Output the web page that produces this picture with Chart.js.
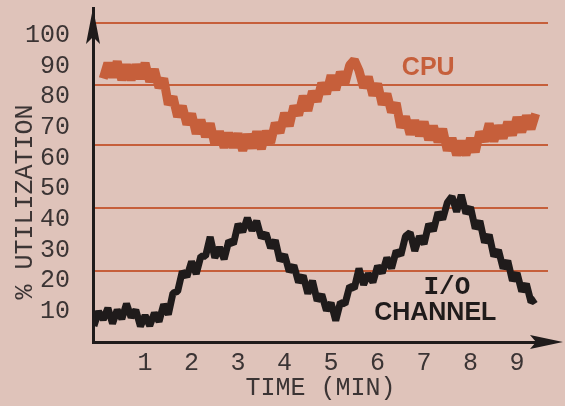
<!DOCTYPE html>
<html lang="en">
<head>
    <meta charset="UTF-8">
    <title>CPU and I/O Channel Utilization</title>
    <script src="https://cdn.jsdelivr.net/npm/chart.js@4.4.1/dist/chart.umd.min.js"></script>
    <style>
        body { margin: 0; background: #dfc3ba; }
        .chart-box { width: 565px; height: 406px; }
    </style>
</head>
<body>
    <div class="chart-box">
        <canvas id="utilChart"></canvas>
    </div>

    <script>
        // Sampled utilization traces (time in minutes, % utilization)
        const cpuTime = [0.1, 0.2, 0.3, 0.4, 0.5, 0.6, 0.7, 0.8, 0.9, 1.0,
            1.1, 1.2, 1.3, 1.4, 1.5, 1.6, 1.7, 1.8, 1.9, 2.0,
            2.1, 2.2, 2.3, 2.4, 2.5, 2.6, 2.7, 2.8, 2.9, 3.0,
            3.1, 3.2, 3.3, 3.4, 3.5, 3.6, 3.7, 3.8, 3.9, 4.0,
            4.1, 4.2, 4.3, 4.4, 4.5, 4.6, 4.7, 4.8, 4.9, 5.0,
            5.1, 5.2, 5.3, 5.4, 5.5, 5.6, 5.7, 5.8, 5.9, 6.0,
            6.1, 6.2, 6.3, 6.4, 6.5, 6.6, 6.7, 6.8, 6.9, 7.0,
            7.1, 7.2, 7.3, 7.4, 7.5, 7.6, 7.7, 7.8, 7.9, 8.0,
            8.1, 8.2, 8.3, 8.4, 8.5, 8.6, 8.7, 8.8, 8.9, 9.0,
            9.1, 9.2, 9.3, 9.4];
        const cpuUtil = [86, 91, 86.5, 91.5, 85.5, 90.5, 85.5, 90.5, 86, 91,
            85, 89, 83, 86, 77.5, 80, 73.5, 77, 71, 74.5,
            68, 72.5, 67, 71.3, 64.5, 68.7, 63.5, 68.2, 63.5, 68,
            62.5, 67.7, 63.3, 68.6, 63, 68.8, 65, 71.5, 68.3, 74.7,
            70.5, 77, 74, 80.3, 75.5, 81.8, 78.5, 84.5, 81, 87,
            82.3, 88.1, 84.5, 90.3, 92, 88.6, 83, 86.5, 80.5, 84.3,
            77.5, 81, 75, 78, 70, 73.5, 67.8, 72.3, 67.3, 71.8,
            66, 70.5, 65.3, 69.5, 62.5, 66.5, 61, 65.5, 61, 66.5,
            62, 68.5, 65.5, 71.3, 65.5, 70.6, 66.5, 71.8, 67.5, 73.3,
            68.5, 73.8, 69.5, 74.5];

        const ioTime = [-0.1, 0.0, 0.1, 0.2, 0.3, 0.4, 0.5, 0.6, 0.7, 0.8, 0.9, 1.0,
            1.1, 1.2, 1.3, 1.4, 1.5, 1.6, 1.7, 1.8, 1.9, 2.0,
            2.1, 2.2, 2.3, 2.4, 2.5, 2.6, 2.7, 2.8, 2.9, 3.0,
            3.1, 3.2, 3.3, 3.4, 3.5, 3.6, 3.7, 3.8, 3.9, 4.0,
            4.1, 4.2, 4.3, 4.4, 4.5, 4.6, 4.7, 4.8, 4.9, 5.0,
            5.1, 5.2, 5.3, 5.4, 5.5, 5.6, 5.7, 5.8, 5.9, 6.0,
            6.1, 6.2, 6.3, 6.4, 6.5, 6.6, 6.7, 6.8, 6.9, 7.0,
            7.1, 7.2, 7.3, 7.4, 7.5, 7.6, 7.7, 7.8, 7.9, 8.0,
            8.1, 8.2, 8.3, 8.4, 8.5, 8.6, 8.7, 8.8, 8.9, 9.0,
            9.1, 9.2, 9.3, 9.4];
        const ioUtil = [5.2, 10, 7.3, 11.1, 6, 10.5, 7.5, 12.5, 8, 10.5, 5.1, 8.7,
            5.3, 9.5, 6.7, 12.3, 9, 16, 16.5, 23, 21.3, 26.3,
            22.2, 28, 28, 34.3, 27.5, 30.9, 27, 33, 32, 38.5,
            35.9, 40.5, 36.4, 39.5, 34, 35.5, 30.7, 33.2, 26.5, 28.5,
            23, 25, 19.5, 21.7, 15.8, 20, 13.5, 15.5, 10.3, 12.8,
            7, 12.9, 12.4, 18.2, 17.5, 24, 18.7, 22.3, 19.5, 24.8,
            22.5, 27.5, 24, 29.7, 28.3, 34.5, 35.7, 29.7, 34.5, 32,
            38.5, 36.3, 42.3, 40, 45.5, 47.5, 42.5, 48, 42, 44,
            37, 39.5, 32.5, 35, 28, 30, 24, 26.5, 20, 22.5,
            16.5, 19, 13, 14];

        const yTickValues = [10, 20, 30, 40, 50, 60, 70, 80, 90, 100];
        const xTickValues = [1, 2, 3, 4, 5, 6, 7, 8, 9];
        // ruled guide lines on the sheet
        const guideLevels = [23.2, 43.8, 64.4, 84, 104];

        const INK = '#1f1b1b';
        const TEXT = '#3b3434';
        const RUST = '#c65f3b';

        function toPoints(xs, ys) {
            return xs.map((x, i) => ({ x: x, y: ys[i] }));
        }

        // keep tick labels from pushing the plot area inwards
        function noEdgePadding(scale) {
            scale.paddingTop = 0;
            scale.paddingBottom = 0;
            scale.paddingLeft = 0;
            scale.paddingRight = 0;
        }

        // axis arrows, series captions and the rotated y title
        const decorations = {
            id: 'decorations',
            afterDraw(chart) {
                const { ctx, chartArea, scales } = chart;
                const x = scales.x, y = scales.y;
                ctx.save();
                ctx.fillStyle = INK;

                const ax = chartArea.left;
                const at = chartArea.top;
                ctx.beginPath();
                ctx.moveTo(ax, at);
                ctx.lineTo(ax - 7, at + 36);
                ctx.lineTo(ax, at + 29);
                ctx.lineTo(ax + 7, at + 36);
                ctx.closePath();
                ctx.fill();

                const tipX = chartArea.right + 15;
                const ab = chartArea.bottom;
                ctx.beginPath();
                ctx.moveTo(tipX, ab);
                ctx.lineTo(tipX - 33, ab - 7);
                ctx.lineTo(tipX - 27, ab);
                ctx.lineTo(tipX - 33, ab + 7);
                ctx.closePath();
                ctx.fill();

                ctx.textAlign = 'center';
                ctx.textBaseline = 'middle';

                ctx.fillStyle = RUST;
                ctx.font = 'bold 25px "Liberation Sans"';
                ctx.fillText('CPU', x.getPixelForValue(7.09), y.getPixelForValue(89.4));

                ctx.fillStyle = INK;
                ctx.font = 'bold 26px "Liberation Mono"';
                ctx.fillText('I/O', x.getPixelForValue(7.49), y.getPixelForValue(17.9));
                ctx.font = 'bold 25px "Liberation Sans"';
                ctx.fillText('CHANNEL', x.getPixelForValue(7.24), y.getPixelForValue(9.5));

                ctx.fillStyle = TEXT;
                ctx.font = '25px "Liberation Mono"';
                ctx.translate(25, 202);
                ctx.rotate(-Math.PI / 2);
                ctx.fillText('% UTILIZATION', 0, 0);
                ctx.restore();
            }
        };

        const ctx = document.getElementById('utilChart').getContext('2d');
        new Chart(ctx, {
            type: 'line',
            data: {
                datasets: [{
                    label: 'CPU',
                    data: toPoints(cpuTime, cpuUtil),
                    borderColor: RUST,
                    borderWidth: 9,
                    borderJoinStyle: 'bevel',
                    pointRadius: 0,
                    tension: 0
                }, {
                    label: 'I/O Channel',
                    data: toPoints(ioTime, ioUtil),
                    borderColor: INK,
                    borderWidth: 7,
                    borderJoinStyle: 'bevel',
                    pointRadius: 0,
                    tension: 0
                }]
            },
            options: {
                responsive: true,
                maintainAspectRatio: false,
                animation: false,
                layout: {
                    padding: { top: 8, right: 17, bottom: 0, left: 0 }
                },
                plugins: {
                    legend: { display: false },
                    tooltip: { enabled: false }
                },
                scales: {
                    x: {
                        type: 'linear',
                        min: -0.12,
                        max: 9.665,
                        afterBuildTicks: scale => {
                            scale.ticks = xTickValues.map(v => ({ value: v }));
                        },
                        afterFit: scale => {
                            scale.height = 64;
                            noEdgePadding(scale);
                        },
                        grid: { display: false, drawTicks: false },
                        border: { display: true, color: INK, width: 3 },
                        ticks: {
                            color: TEXT,
                            font: { family: 'Liberation Mono', size: 25 },
                            padding: 6,
                            maxRotation: 0
                        },
                        title: {
                            display: true,
                            text: 'TIME (MIN)',
                            color: TEXT,
                            font: { family: 'Liberation Mono', size: 25 },
                            padding: { top: 0, bottom: 3 }
                        }
                    },
                    y: {
                        min: 0,
                        max: 109,
                        afterBuildTicks: scale => {
                            scale.ticks = yTickValues.map(v => ({ value: v }));
                        },
                        afterFit: scale => {
                            scale.width = 93;
                            noEdgePadding(scale);
                        },
                        grid: { display: false, drawTicks: false },
                        border: { display: true, color: INK, width: 3 },
                        ticks: {
                            color: TEXT,
                            font: { family: 'Liberation Mono', size: 25 },
                            padding: 23
                        }
                    },
                    guides: {
                        position: 'right',
                        min: 0,
                        max: 109,
                        afterBuildTicks: scale => {
                            scale.ticks = guideLevels.map(v => ({ value: v }));
                        },
                        afterFit: scale => {
                            scale.width = 0;
                            noEdgePadding(scale);
                        },
                        grid: { color: RUST, lineWidth: 2, drawTicks: false },
                        border: { display: false },
                        ticks: { display: false }
                    }
                }
            },
            plugins: [decorations]
        });
    </script>
</body>
</html>
